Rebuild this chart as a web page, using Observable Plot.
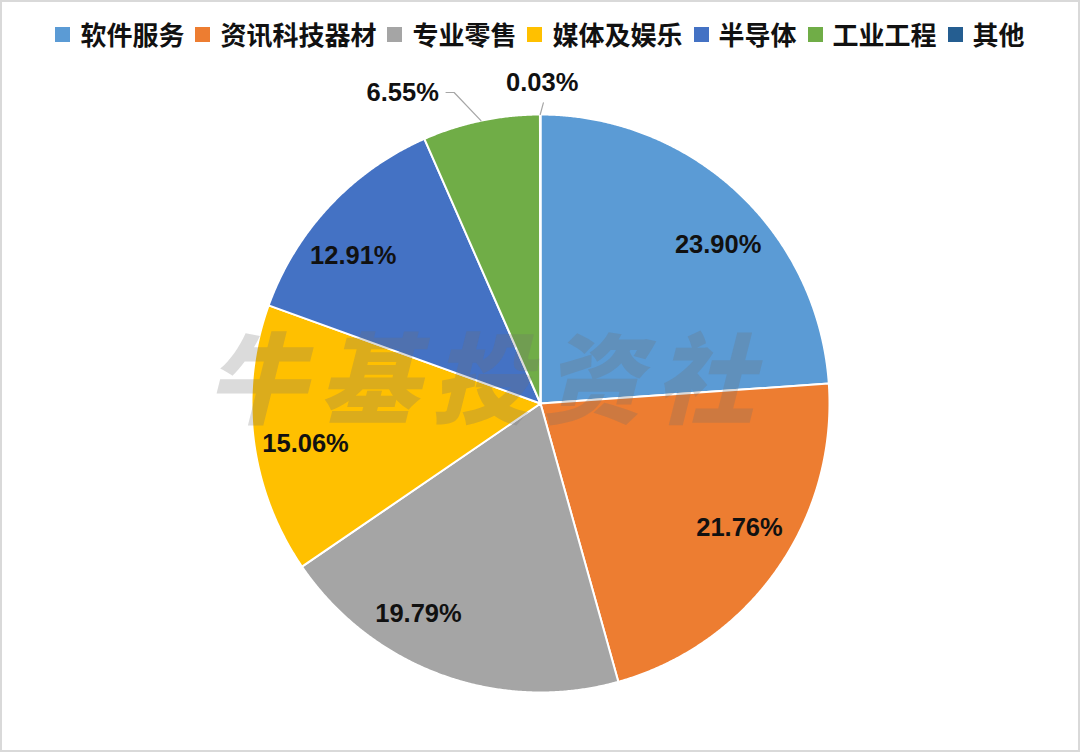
<!DOCTYPE html>
<html>
<head>
<meta charset="utf-8">
<script src="https://cdn.jsdelivr.net/npm/d3@7"></script>
<script src="https://cdn.jsdelivr.net/npm/@observablehq/plot@0.6"></script>
<style>
  html, body { margin: 0; padding: 0; background: #fff; }
  #wrap { position: relative; width: 1080px; height: 752px; overflow: hidden; background: #fff; }
  #chart { position: absolute; left: 0; top: 0; }
  #frame { position: absolute; inset: 0; border: 2px solid #d9d9d9; box-sizing: border-box; pointer-events: none; }
  #legend { position: absolute; top: 16px; left: 0; width: 1080px; display: flex; justify-content: center; align-items: center;
            font-family: "Noto Sans CJK SC", "Noto Sans", sans-serif; font-weight: 700; font-size: 26px; color: #111; line-height: 36px; }
  .item { display: flex; align-items: center; margin-right: 11px; }
  .item:last-child { margin-right: 0; }
  .sw { width: 15px; height: 15px; margin-right: 10px; }
</style>
</head>
<body>
<div id="wrap">
  <div id="chart"></div>
  <div id="legend"></div>
  <div id="frame"></div>
</div>
<script>
// ---- data ----
const categories = ["软件服务", "资讯科技器材", "专业零售", "媒体及娱乐", "半导体", "工业工程", "其他"];
const shares = [23.90, 21.76, 19.79, 15.06, 12.91, 6.55, 0.03];
const colors = ["#5B9BD5", "#ED7D31", "#A5A5A5", "#FFC000", "#4472C4", "#70AD47", "#255E91"];
const watermark = "牛基投资社";

// ---- layout (unit circle coordinates) ----
const W = 1080, H = 752, CX = 540, CY = 403, R = 289;
const insideR = 0.83;
// best-fit label nudges, in pixels (layout only)
const labelNudge = {
  "软件服务": [14, 17], "资讯科技器材": [3, -14], "专业零售": [-40, -15],
  "媒体及娱乐": [3, 10], "半导体": [-12, 16]
};
const callouts = {
  "工业工程": { dx: -0.25, dy: -0.01, anchor: "end", halfW: 0.127 },
  "其他": { dx: 0.007, dy: 0.0, anchor: "middle", halfW: 0.13 }
};

// ---- pie geometry ----
const pie = d3.pie().sort(null).value(d => d.value).startAngle(0).endAngle(2 * Math.PI);
const table = categories.map((c, i) => ({ name: c, value: shares[i], label: shares[i].toFixed(2) + "%" }));
const arcs = pie(table);

const polys = [];
arcs.forEach(a => {
  const n = Math.max(2, Math.ceil((a.endAngle - a.startAngle) / 0.005));
  polys.push({ name: a.data.name, x: 0, y: 0 });
  for (let k = 0; k <= n; k++) {
    const t = a.startAngle + (a.endAngle - a.startAngle) * k / n;
    polys.push({ name: a.data.name, x: Math.sin(t), y: Math.cos(t) });
  }
});

const inside = [], outside = [], leaders = [];
arcs.forEach(a => {
  const m = (a.startAngle + a.endAngle) / 2;
  const c = callouts[a.data.name];
  if (!c) {
    const nd = labelNudge[a.data.name] || [0, 0];
    inside.push({ label: a.data.label, x: insideR * Math.sin(m) + nd[0] / R, y: insideR * Math.cos(m) - nd[1] / R });
  } else {
    const lx = 1.11 * Math.sin(m) + c.dx;
    const ly = 1.11 * Math.cos(m) + c.dy;
    if (c.anchor === "end") {
      const right = lx + c.halfW;
      outside.push({ label: a.data.label, x: right, y: ly, anchor: "end" });
      leaders.push({ id: a.data.name, x: Math.sin(m), y: Math.cos(m) });
      leaders.push({ id: a.data.name, x: right + 0.053, y: ly });
      leaders.push({ id: a.data.name, x: right + 0.025, y: ly });
    } else {
      outside.push({ label: a.data.label, x: lx, y: ly, anchor: "middle" });
      leaders.push({ id: a.data.name, x: Math.sin(m), y: Math.cos(m) });
      leaders.push({ id: a.data.name, x: lx + 0.004, y: ly - 0.07 });
    }
  }
});

const labelFont = "Liberation Sans, Arial, sans-serif";
const plot = Plot.plot({
  width: W, height: H,
  margin: 0,
  x: { domain: [-CX / R, (W - CX) / R], axis: null },
  y: { domain: [-(H - CY) / R, CY / R], axis: null },
  color: { domain: categories, range: colors },
  style: { background: "transparent", overflow: "visible" },
  marks: [
    Plot.line(polys, { x: "x", y: "y", z: "name", fill: "name", stroke: "white", strokeWidth: 2, strokeLinejoin: "round", curve: "linear-closed" }),
    Plot.line(leaders, { x: "x", y: "y", z: "id", stroke: "#a6a6a6", strokeWidth: 1.2 }),
    Plot.text([watermark], { x: -0.185, y: 0.065, text: d => d, fontSize: 99, fontWeight: 900, fontStyle: "italic",
      fontFamily: "Noto Sans CJK SC", fill: "#6f6f6f", fillOpacity: 0.25 }),
    Plot.text(inside, { x: "x", y: "y", text: "label", fontSize: 25.5, fontWeight: "bold",
      fontFamily: labelFont, fill: "#111" }),
    Plot.text(outside, { x: "x", y: "y", text: "label", textAnchor: "end", fontSize: 25.5, fontWeight: "bold",
      fontFamily: labelFont, fill: "#111", filter: d => d.anchor === "end" }),
    Plot.text(outside, { x: "x", y: "y", text: "label", textAnchor: "middle", fontSize: 25.5, fontWeight: "bold",
      fontFamily: labelFont, fill: "#111", filter: d => d.anchor === "middle" })
  ]
});
document.getElementById("chart").appendChild(plot);
d3.select(plot).selectAll("text").filter(function () { return this.textContent === watermark; })
  .style("letter-spacing", "13px");

// ---- legend ----
const legend = d3.select("#legend");
categories.forEach((c, i) => {
  const it = legend.append("div").attr("class", "item");
  it.append("div").attr("class", "sw").style("background", colors[i]);
  it.append("span").text(c);
});
</script>
</body>
</html>
